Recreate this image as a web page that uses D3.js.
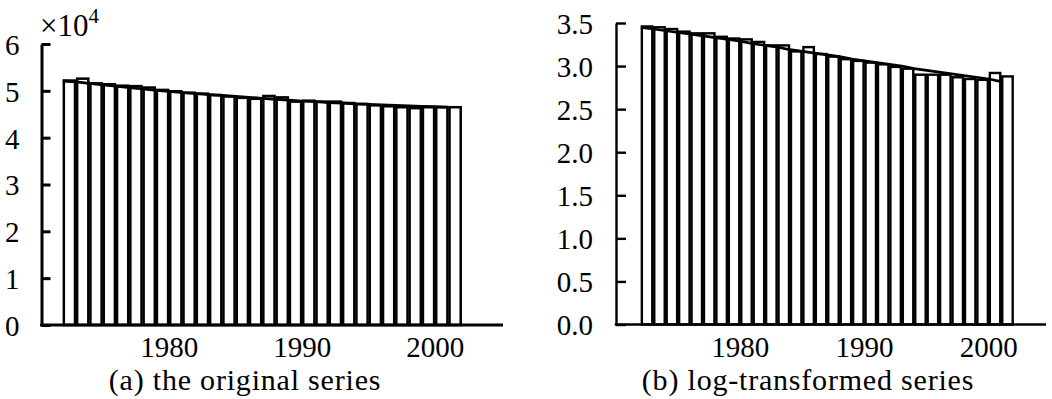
<!DOCTYPE html>
<html>
<head>
<meta charset="utf-8">
<script src="https://cdn.jsdelivr.net/npm/d3@7/dist/d3.min.js"></script>
<style>
  body { margin: 0; background: #fff; }
  svg text { font-family: "Liberation Serif", "DejaVu Serif", serif; fill: #000; }
</style>
</head>
<body>
<svg id="chart" width="1052" height="399"></svg>
<script>
// --- data ---
const years = [1972, 1973, 1974, 1975, 1976, 1977, 1978, 1979, 1980, 1981,
               1982, 1983, 1984, 1985, 1986, 1987, 1988, 1989, 1990, 1991,
               1992, 1993, 1994, 1995, 1996, 1997, 1998, 1999, 2000, 2001];

// (a) original series
const originalValues = [52200, 52600, 51600, 51400, 51100, 51000, 50700, 50200, 49900, 49600,
                        49400, 49100, 48800, 48500, 48300, 48900, 48600, 47700, 47900, 47700,
                        47700, 47400, 47200, 46900, 46700, 46500, 46300, 46500, 46500, 46500];
const originalTrend  = [52100, 51900, 51600, 51300, 51000, 50700, 50400, 50100, 49900, 49600,
                        49400, 49200, 49000, 48800, 48600, 48400, 48200, 48000, 47800, 47700,
                        47500, 47400, 47200, 47100, 47000, 46900, 46800, 46700, 46600, 46500];

// (b) log-transformed series
const logValues = [3.46, 3.45, 3.43, 3.40, 3.38, 3.38, 3.34, 3.32, 3.31, 3.28,
                   3.24, 3.24, 3.17, 3.22, 3.14, 3.11, 3.08, 3.06, 3.04, 3.02,
                   2.99, 2.97, 2.90, 2.90, 2.90, 2.87, 2.85, 2.84, 2.92, 2.88];
const logTrend  = [3.45, 3.43, 3.41, 3.39, 3.37, 3.35, 3.33, 3.31, 3.29, 3.26,
                   3.24, 3.22, 3.19, 3.17, 3.15, 3.13, 3.11, 3.08, 3.06, 3.04,
                   3.02, 3.00, 2.97, 2.95, 2.93, 2.91, 2.89, 2.87, 2.85, 2.82];

const yearTicks = [1980, 1990, 2000];
const originalTicks = [0, 10000, 20000, 30000, 40000, 50000, 60000];
const logTicks = [0, 0.5, 1.0, 1.5, 2.0, 2.5, 3.0, 3.5];

const svg = d3.select("#chart");

// one panel: bars + trend line + axes
function drawPanel(p) {
  const x = d3.scaleLinear().domain(p.xDomain).range(p.xRange);
  const y = d3.scaleLinear().domain(p.yDomain).range(p.yRange);
  const step = x(1) - x(0);
  const bw = step * 0.84;
  const g = svg.append("g");

  // bars (each year drawn in its own slot)
  g.selectAll("rect.bar")
    .data(years)
    .join("rect")
    .attr("class", "bar")
    .attr("x", (d) => x(d + 0.5) - bw / 2)
    .attr("y", (d, i) => y(p.values[i]))
    .attr("width", bw)
    .attr("height", (d, i) => y(0) - y(p.values[i]))
    .attr("fill", "#fff")
    .attr("stroke", "#000")
    .attr("stroke-width", p.barStroke);

  // trend
  const line = d3.line()
    .x((d) => x(d))
    .y((d, i) => y(p.trend[i]));
  g.append("path")
    .datum(years)
    .attr("d", line)
    .attr("fill", "none")
    .attr("stroke", "#000")
    .attr("stroke-width", p.lineWidth)
    .attr("stroke-linejoin", "round");

  // y axis: ticks point inward, labels on the left
  const yAxis = d3.axisLeft(y)
    .tickValues(p.yTicks)
    .tickSizeInner(-p.tickLen)
    .tickSizeOuter(0)
    .tickPadding(p.tickLen + 13)
    .tickFormat(p.yFormat);
  const ya = g.append("g")
    .attr("transform", `translate(${p.xRange[0]},0)`)
    .call(yAxis);
  ya.select(".domain").attr("stroke-width", p.axisWidth);
  ya.selectAll(".tick line").attr("stroke-width", p.axisWidth);
  ya.selectAll(".tick text")
    .attr("font-size", 29)
    .attr("font-family", null)
    .attr("dy", "0.36em");

  // x axis line + year labels
  g.append("line")
    .attr("x1", p.xRange[0] - p.axisWidth / 2).attr("x2", p.xRange[1])
    .attr("y1", y(0)).attr("y2", y(0))
    .attr("stroke", "#000")
    .attr("stroke-width", p.axisWidth);
  g.selectAll("text.year")
    .data(yearTicks)
    .join("text")
    .attr("class", "year")
    .attr("x", (d) => x(d))
    .attr("y", 357)
    .attr("text-anchor", "middle")
    .attr("font-size", 29)
    .text((d) => d);

  // caption
  g.append("text")
    .attr("x", p.captionX)
    .attr("y", 390)
    .attr("text-anchor", "middle")
    .attr("font-size", 30)
    .attr("letter-spacing", 0.8)
    .text(p.caption);
}

drawPanel({
  values: originalValues,
  trend: originalTrend,
  xDomain: [1970.4, 2005.1],
  xRange: [41.5, 503],
  yDomain: [0, 60000],
  yRange: [325, 44],
  yTicks: originalTicks,
  yFormat: (d) => d / 10000,
  tickLen: 9,
  axisWidth: 3,
  barStroke: 2.5,
  lineWidth: 2.8,
  caption: "(a) the original series",
  captionX: 245
});

drawPanel({
  values: logValues,
  trend: logTrend,
  xDomain: [1970, 2004.6],
  xRange: [616, 1046],
  yDomain: [0, 3.5],
  yRange: [324.5, 23],
  yTicks: logTicks,
  yFormat: d3.format(".1f"),
  tickLen: 10,
  axisWidth: 2.4,
  barStroke: 2.4,
  lineWidth: 2.7,
  caption: "(b) log-transformed series",
  captionX: 808
});

// exponent label of the left panel
const expo = svg.append("text").attr("x", 40).attr("y", 36).attr("font-size", 31);
expo.append("tspan").text("×10");
expo.append("tspan").attr("dy", -13).attr("font-size", 21).text("4");
</script>
</body>
</html>
